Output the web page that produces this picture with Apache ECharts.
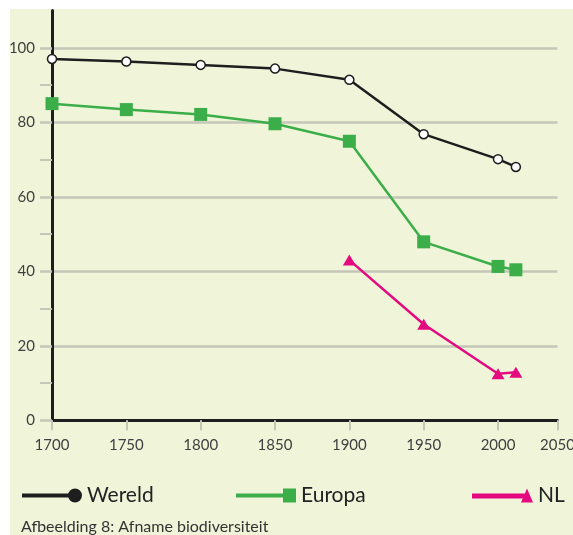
<!DOCTYPE html>
<html>
<head>
<meta charset="utf-8">
<script src="https://cdn.jsdelivr.net/npm/echarts@6/dist/echarts.min.js"></script>
<style>
  html, body { margin: 0; padding: 0; background: #ffffff; }
  #chart { position: absolute; left: 10px; top: 9px; width: 563px; height: 526px; background: #f0f5da; }
</style>
</head>
<body>
<div id="chart"></div>
<script>
// values
const years = [1700, 1750, 1800, 1850, 1900, 1950, 2000, 2012];
const wereld = [97.0, 96.3, 95.4, 94.4, 91.4, 76.8, 70.1, 68.0];
const europa = [85.0, 83.4, 82.1, 79.6, 74.9, 47.9, 41.3, 40.4];
const nlYears = [1900, 1950, 2000, 2012];
const nl = [43.0, 25.8, 12.5, 12.9];

// x axis in the picture is squeezed at the end: "2050" sits where ~2040 would be
const xTickValues = [1700, 1750, 1800, 1850, 1900, 1950, 2000, 2040];
const xTickLabels = ['1700', '1750', '1800', '1850', '1900', '1950', '2000', '2050'];
const yTickValues = [0, 20, 40, 60, 80, 100];
const yMinorTicks = [10, 30, 50, 70, 90];

const FONT = 'Lato';
const BLACK = '#1e1e1e';
const GREEN = '#3cae49';
const PINK = '#e5097f';
const GRID_GREY = '#c5c6b8';

const zip = (xs, ys) => xs.map((x, i) => [x, ys[i]]);

const chart = echarts.init(document.getElementById('chart'));

const option = {
  animation: false,
  backgroundColor: '#f0f5da',
  grid: { left: 42, right: 15.5, top: 1.5, bottom: 114.7, outerBoundsMode: 'none', containLabel: false },
  xAxis: {
    type: 'value',
    min: 1700,
    max: 2040,
    axisLine: { onZero: false, lineStyle: { color: BLACK, width: 3 } },
    axisTick: { customValues: xTickValues, length: 10, lineStyle: { color: GRID_GREY, width: 2 } },
    axisLabel: {
      customValues: xTickValues,
      margin: 17,
      fontFamily: FONT,
      fontSize: 15,
      color: '#404040',
      formatter: v => xTickLabels[xTickValues.indexOf(v)] || ''
    },
    splitLine: { show: false }
  },
  yAxis: [{
    type: 'value',
    position: 'left',
    min: 0,
    max: 110,
    axisLine: { show: true, lineStyle: { color: BLACK, width: 3 } },
    axisTick: { show: true, customValues: yTickValues, length: 12, lineStyle: { color: GRID_GREY, width: 2.5 } },
    axisLabel: { customValues: yTickValues, margin: 17, fontFamily: FONT, fontSize: 15, color: '#404040' },
    splitLine: { show: true, lineStyle: { color: GRID_GREY, width: 2.5 } }
  }, {
    type: 'value',
    position: 'left',
    min: 0,
    max: 110,
    axisLine: { show: false },
    axisTick: { show: true, customValues: yMinorTicks, length: 12, lineStyle: { color: GRID_GREY, width: 2 } },
    axisLabel: { show: false },
    splitLine: { show: false }
  }],
  legend: [
    {
      left: 12, top: 476, padding: 0, itemWidth: 60, itemHeight: 14,
      textStyle: { fontFamily: FONT, fontSize: 21, color: '#222' },
      data: [{
        name: 'Wereld',
        icon: 'path://M0,5 L48,5 L48,9 L0,9 Z M46,7 A7,7 0 1,1 60,7 A7,7 0 1,1 46,7 Z',
        itemStyle: { color: BLACK, borderWidth: 0 }
      }]
    },
    {
      left: 226, top: 476, padding: 0, itemWidth: 60, itemHeight: 14,
      textStyle: { fontFamily: FONT, fontSize: 21, color: '#222' },
      data: [{
        name: 'Europa',
        icon: 'path://M0,5 L47,5 L47,0 L60,0 L60,14 L47,14 L47,9 L0,9 Z',
        itemStyle: { color: GREEN, borderWidth: 0 }
      }]
    },
    {
      left: 462, top: 476, padding: 0, itemWidth: 61, itemHeight: 14,
      textStyle: { fontFamily: FONT, fontSize: 21, color: '#222' },
      data: [{
        name: 'NL',
        icon: 'path://M0,5 L54,5 L54,10 L0,10 Z M55,0 L61,14 L49,14 Z',
        itemStyle: { color: PINK, borderWidth: 0 }
      }]
    }
  ],
  graphic: [{
    type: 'text',
    left: 11,
    top: 510,
    style: { text: 'Afbeelding 8: Afname biodiversiteit', fontFamily: FONT, fontSize: 16, fill: '#333' }
  }],
  series: [
    {
      name: 'NL',
      type: 'line',
      data: zip(nlYears, nl),
      symbol: 'triangle',
      symbolSize: [13, 11],
      lineStyle: { color: PINK, width: 2.5 },
      itemStyle: { color: PINK },
      z: 2
    },
    {
      name: 'Europa',
      type: 'line',
      data: zip(years, europa),
      symbol: 'rect',
      symbolSize: 13,
      lineStyle: { color: GREEN, width: 2.5 },
      itemStyle: { color: GREEN },
      z: 3
    },
    {
      name: 'Wereld',
      type: 'line',
      data: zip(years, wereld),
      symbol: 'circle',
      symbolSize: 9,
      lineStyle: { color: BLACK, width: 2.5 },
      itemStyle: { color: '#ffffff', borderColor: BLACK, borderWidth: 1.5 },
      z: 4
    }
  ]
};

chart.setOption(option);
</script>
</body>
</html>
